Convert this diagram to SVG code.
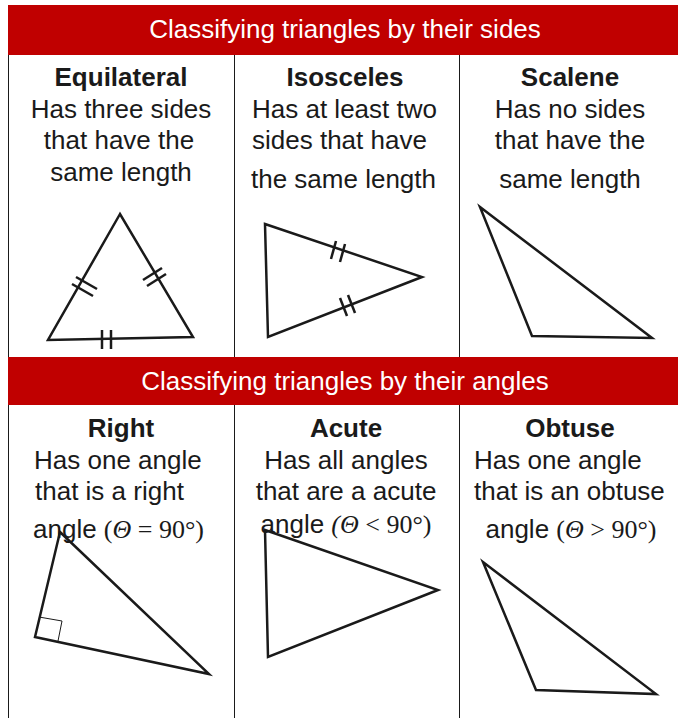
<svg xmlns="http://www.w3.org/2000/svg" width="678" height="718" viewBox="0 0 678 718">
<style>
.hdr{fill:#c00000}
.ht{font-family:"Liberation Sans",Arial,sans-serif;font-size:26px;fill:#fff;text-anchor:middle}
.t{font-family:"Liberation Sans",Arial,sans-serif;font-size:26px;fill:#1a1a1a}
.b{font-weight:bold}
.m{text-anchor:middle}
.s{font-family:"Liberation Serif","Times New Roman",serif}
.i{font-style:italic}
.tri{fill:none;stroke:#1a1a1a;stroke-width:2.5;stroke-linejoin:miter}
.tick{stroke:#1a1a1a;stroke-width:2.5}
.grid{stroke:#1a1a1a;stroke-width:1}
</style>
<rect width="678" height="718" fill="#fff"/>
<g id="connectors">
<line class="grid" x1="8.5" y1="55" x2="8.5" y2="718"/>
<line class="grid" x1="234.5" y1="55" x2="234.5" y2="718"/>
<line class="grid" x1="459.5" y1="55" x2="459.5" y2="718"/>
</g>
<g id="header-sides">
<rect class="hdr" x="8" y="5" width="670" height="50"/>
<text class="ht" x="345" y="38">Classifying triangles by their sides</text>
</g>
<g id="header-angles">
<rect class="hdr" x="8" y="357" width="670" height="48"/>
<text class="ht" x="345" y="390">Classifying triangles by their angles</text>
</g>
<g id="equilateral">
<text class="t b m" x="121" y="86">Equilateral</text>
<text class="t m" x="121" y="118">Has three sides</text>
<text class="t m" x="119" y="149">that have the</text>
<text class="t m" x="121" y="181">same length</text>
<polygon class="tri" points="120,214 48,340 193,337"/>
<line class="tick" x1="72" y1="284" x2="93" y2="296"/>
<line class="tick" x1="76" y1="277" x2="97" y2="289"/>
<line class="tick" x1="143" y1="280" x2="162" y2="268"/>
<line class="tick" x1="147" y1="286" x2="166" y2="274"/>
<line class="tick" x1="102" y1="330" x2="102" y2="349"/>
<line class="tick" x1="111" y1="330" x2="111" y2="349"/>
</g>
<g id="isosceles">
<text class="t b m" x="345" y="86">Isosceles</text>
<text class="t" x="252" y="118">Has at least two</text>
<text class="t" x="252" y="149">sides that have</text>
<text class="t" x="251" y="188">the same length</text>
<polygon class="tri" points="265,224 422,277 268,337"/>
<line class="tick" x1="336" y1="241" x2="331" y2="259"/>
<line class="tick" x1="345" y1="244" x2="340" y2="262"/>
<line class="tick" x1="340" y1="298" x2="347" y2="316"/>
<line class="tick" x1="348" y1="295" x2="355" y2="313"/>
</g>
<g id="scalene">
<text class="t b m" x="570" y="86">Scalene</text>
<text class="t m" x="570" y="118">Has no sides</text>
<text class="t m" x="570" y="149">that have the</text>
<text class="t m" x="570" y="188">same length</text>
<polygon class="tri" points="480,207 532,336 652,338"/>
</g>
<g id="right">
<text class="t b m" x="121" y="437">Right</text>
<text class="t" x="34" y="469">Has one angle</text>
<text class="t" x="35" y="500">that is a right</text>
<text class="t" x="33" y="538">angle <tspan class="s">(<tspan class="i">Θ</tspan> = 90°)</tspan></text>
<polygon class="tri" points="60,532 35,637 209,674"/>
<polyline fill="none" stroke="#1a1a1a" stroke-width="1" points="39,617 62,621 58,641"/>
</g>
<g id="acute">
<text class="t b m" x="346" y="437">Acute</text>
<text class="t m" x="346" y="469">Has all angles</text>
<text class="t m" x="346" y="500">that are a acute</text>
<text class="t m" x="346" y="533">angle <tspan class="s i">(Θ</tspan><tspan class="s"> &lt; 90°)</tspan></text>
<polygon class="tri" points="265,530 438,590 268,657"/>
</g>
<g id="obtuse">
<text class="t b m" x="570" y="437">Obtuse</text>
<text class="t" x="474" y="469">Has one angle</text>
<text class="t" x="474" y="500">that is an obtuse</text>
<text class="t m" x="571" y="538">angle <tspan class="s">(<tspan class="i">Θ</tspan> &gt; 90°)</tspan></text>
<polygon class="tri" points="483,562 536,690 656,694"/>
</g>
</svg>
